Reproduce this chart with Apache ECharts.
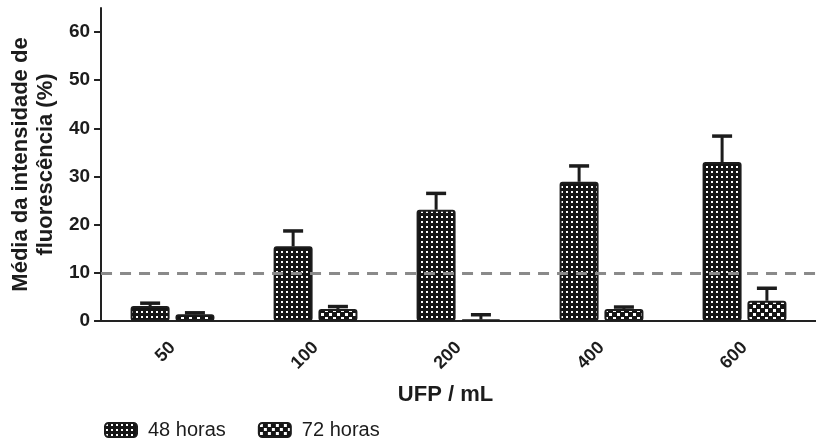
<!DOCTYPE html>
<html><head><meta charset="utf-8">
<script src="https://cdn.jsdelivr.net/npm/echarts@6/dist/echarts.min.js"></script>
<style>html,body{margin:0;padding:0;background:#fff}#c{width:816px;height:439px}</style>
</head><body><div id="c"></div>
<script>
const categories = ['50', '100', '200', '400', '600'];
const seriesNames = ['48 horas', '72 horas'];
const values48 = [3.1, 15.5, 23.1, 28.9, 33.0];
const errors48 = [0.6, 3.2, 3.4, 3.3, 5.4];
const values72 = [1.4, 2.5, 0.3, 2.5, 4.2];
const errors72 = [0.3, 0.5, 1.0, 0.4, 2.6];
const yTicks = [0, 10, 20, 30, 40, 50, 60];
const thresholdValue = 10;

const FONT = '"Liberation Sans", Arial, sans-serif';
const INK = '#1c1c1c';

function makePattern(kind) {
  const c = document.createElement('canvas');
  const ctx = c.getContext('2d');
  if (kind === 'fine') {
    c.width = 5; c.height = 5;
    ctx.fillStyle = '#151515'; ctx.fillRect(0, 0, 5, 5);
    ctx.fillStyle = '#ffffff';
    ctx.fillRect(1, 1, 2, 2);
  } else {
    c.width = 8; c.height = 8;
    ctx.fillStyle = '#151515'; ctx.fillRect(0, 0, 8, 8);
    ctx.fillStyle = '#ffffff';
    ctx.fillRect(1, 1, 3, 3);
    ctx.fillRect(5, 5, 3, 3);
  }
  return { image: c, repeat: 'repeat' };
}

const BAR_W = 39;
const BAR_GAP = '15%';
const OFFSET = 22.4;

function errSeries(name, vals, errs, dx) {
  return {
    type: 'custom',
    name: name + ' err',
    z: 4,
    data: vals.map((v, i) => [i, v, v + errs[i]]),
    encode: { x: 0, y: [1, 2] },
    renderItem: function (params, api) {
      const lo = api.coord([api.value(0), api.value(1)]);
      const hi = api.coord([api.value(0), api.value(2)]);
      const x = lo[0] + dx;
      return {
        type: 'group',
        children: [
          { type: 'line', shape: { x1: x, y1: lo[1], x2: x, y2: hi[1] + 1 }, style: { stroke: INK, lineWidth: 3 } },
          { type: 'line', shape: { x1: x - 10, y1: hi[1], x2: x + 10, y2: hi[1] }, style: { stroke: INK, lineWidth: 3.5 } }
        ]
      };
    }
  };
}

const chart = echarts.init(document.getElementById('c'), null, { renderer: 'canvas' });
chart.setOption({
  animation: false,
  backgroundColor: '#ffffff',
  grid: { left: 96, right: 0, top: 8, bottom: 118, containLabel: false },
  legend: {
    data: seriesNames,
    left: 99, top: 415,
    itemWidth: 32, itemHeight: 14, itemGap: 32,
    textStyle: { fontFamily: FONT, fontSize: 20, color: INK, padding: [0, 0, 0, 6] }
  },
  xAxis: {
    type: 'category',
    data: categories,
    name: 'UFP / mL',
    nameLocation: 'middle',
    nameGap: 63,
    nameTextStyle: { fontFamily: FONT, fontSize: 22, fontWeight: 'bold', color: INK, padding: [0, 26, 0, 0] },
    axisLine: { lineStyle: { color: '#222', width: 2 } },
    axisTick: { alignWithLabel: true, length: 7, lineStyle: { color: '#222', width: 2 } },
    axisLabel: { rotate: 45, margin: 24, fontFamily: FONT, fontSize: 18, fontWeight: 'bold', color: INK }
  },
  yAxis: {
    type: 'value',
    min: 0, max: 65, interval: 10,
    name: 'Média da intensidade de\nfluorescência (%)',
    nameLocation: 'middle',
    nameGap: 40,
    nameTextStyle: { fontFamily: FONT, fontSize: 22, fontWeight: 'bold', color: INK, lineHeight: 25 },
    splitLine: { show: false },
    axisLine: { show: true, lineStyle: { color: '#222', width: 2 } },
    axisTick: { show: true, length: 7, customValues: yTicks, lineStyle: { color: '#222', width: 2 } },
    axisLabel: { customValues: yTicks, margin: 11, fontFamily: FONT, fontSize: 19, fontWeight: 'bold', color: INK }
  },
  series: [
    {
      type: 'bar', name: seriesNames[0], data: values48,
      barWidth: BAR_W, barGap: BAR_GAP, z: 3,
      itemStyle: { color: makePattern('fine'), borderColor: INK, borderWidth: 2, borderRadius: 2 },
      markLine: {
        silent: true, symbol: 'none', label: { show: false },
        lineStyle: { color: '#8a8a8a', type: [11, 8], width: 3 },
        data: [{ yAxis: thresholdValue }]
      }
    },
    {
      type: 'bar', name: seriesNames[1], data: values72,
      barWidth: BAR_W, barGap: BAR_GAP, z: 3,
      itemStyle: { color: makePattern('coarse'), borderColor: INK, borderWidth: 2, borderRadius: 2 }
    },
    errSeries(seriesNames[0], values48, errors48, -OFFSET),
    errSeries(seriesNames[1], values72, errors72, OFFSET)
  ]
});
</script>
</body></html>
